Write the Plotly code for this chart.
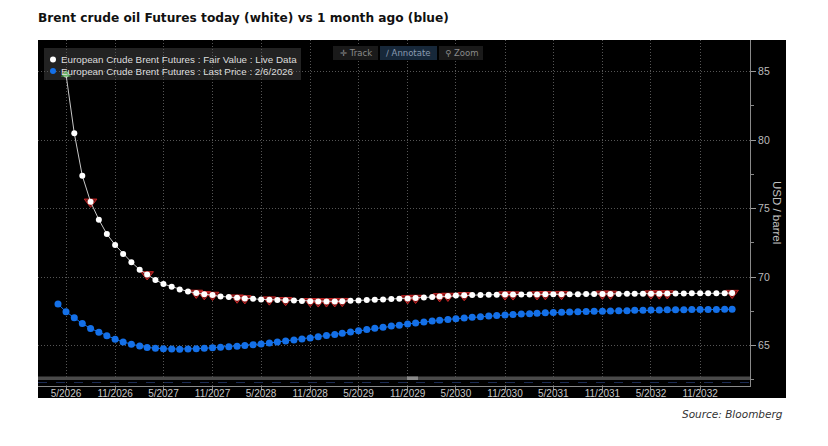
import plotly.graph_objects as go
import pandas as pd

# ---------------- DATA ----------------
TITLE = "Brent crude oil Futures today (white) vs 1 month ago (blue)"
SOURCE = "Source: Bloomberg"
NAME_TODAY = "European Crude Brent Futures : Fair Value : Live Data"
NAME_MONTH_AGO = "European Crude Brent Futures : Last Price : 2/6/2026"

# contract months (Apr 2026 .. Mar 2033)
MONTHS = pd.date_range("2026-04-01", "2033-03-01", freq="MS")
MONTHS_TODAY = MONTHS[1:]          # May 2026 .. Mar 2033

TODAY = [
    84.8, 80.5, 77.4, 75.5, 74.2, 73.15, 72.35, 71.7, 71.1, 70.55, 70.2, 69.8,
    69.5, 69.3, 69.1, 68.95, 68.85, 68.75, 68.7, 68.6, 68.55, 68.5, 68.45, 68.42,
    68.38, 68.36, 68.34, 68.32, 68.3, 68.27, 68.24, 68.22, 68.22, 68.23, 68.25, 68.28,
    68.3, 68.33, 68.36, 68.38, 68.4, 68.42, 68.45, 68.48, 68.52, 68.56, 68.6, 68.63,
    68.66, 68.68, 68.7, 68.71, 68.72, 68.72, 68.73, 68.73, 68.73, 68.74, 68.74, 68.75,
    68.75, 68.76, 68.76, 68.76, 68.77, 68.77, 68.78, 68.78, 68.78, 68.79, 68.79, 68.8,
    68.8, 68.8, 68.81, 68.81, 68.81, 68.82, 68.82, 68.82, 68.83, 68.83, 68.84,
]

MONTH_AGO = [
    68.04, 67.48, 67.04, 66.62, 66.26, 65.98, 65.72, 65.48, 65.27, 65.1, 64.97, 64.87,
    64.81, 64.78, 64.76, 64.75, 64.76, 64.78, 64.81, 64.85, 64.88, 64.92, 64.96, 65.01,
    65.07, 65.13, 65.2, 65.27, 65.34, 65.42, 65.49, 65.56, 65.65, 65.74, 65.82, 65.91,
    66.0, 66.1, 66.18, 66.27, 66.35, 66.43, 66.5, 66.58, 66.65, 66.73, 66.8, 66.86,
    66.92, 66.97, 67.02, 67.07, 67.12, 67.17, 67.21, 67.25, 67.28, 67.31, 67.34, 67.37,
    67.4, 67.42, 67.44, 67.46, 67.48, 67.5, 67.51, 67.52, 67.54, 67.55, 67.56, 67.58,
    67.59, 67.6, 67.61, 67.62, 67.62, 67.63, 67.64, 67.64, 67.65, 67.65, 67.66, 67.66,
]

# indices (into TODAY) carrying the red trade markers
MARKED = [3, 10, 16, 17, 18, 21, 22, 25, 27, 30, 31, 32, 33, 34, 42, 43, 46, 47, 49,
          54, 55, 58, 59, 61, 66, 67, 72, 73, 74, 82]

TICK_LABELS = ["5/2026", "11/2026", "5/2027", "11/2027", "5/2028", "11/2028", "5/2029",
               "11/2029", "5/2030", "11/2030", "5/2031", "11/2031", "5/2032", "11/2032"]
Y_TICKS = [65, 70, 75, 80, 85]

# ---------------- LAYOUT HELPERS ----------------
WIN_W, WIN_H = 828, 446
OFF = 8                      # page body margin of the html page
W, H = WIN_W - OFF, WIN_H - OFF
L, R, T, B = 38, 750, 40, 386   # plot area in window pixels


def px(x):
    return (x - L) / (R - L)


def py(y):
    return (B - y) / (B - T)


tickvals = [f"{lab.split('/')[1]}-{int(lab.split('/')[0]):02d}-01" for lab in TICK_LABELS]

fig = go.Figure()

fig.add_trace(go.Scatter(
    x=MONTHS, y=MONTH_AGO, mode="lines+markers", name=NAME_MONTH_AGO,
    line=dict(color="#1470e8", width=1),
    marker=dict(color="#1470e8", size=7), showlegend=False, hoverinfo="x+y"))

fig.add_trace(go.Scatter(
    x=[MONTHS_TODAY[i] for i in MARKED], y=[TODAY[i] for i in MARKED], mode="markers",
    marker=dict(symbol="triangle-down", size=11, color="rgba(140,20,20,0.8)",
                line=dict(color="#c82828", width=1)),
    showlegend=False, hoverinfo="skip"))

fig.add_trace(go.Scatter(
    x=MONTHS_TODAY, y=TODAY, mode="lines+markers", name=NAME_TODAY,
    line=dict(color="#c8c8c8", width=1),
    marker=dict(color="white", size=6), showlegend=False, hoverinfo="x+y"))

fig.add_trace(go.Scatter(
    x=[MONTHS_TODAY[0]], y=[TODAY[0]], mode="markers",
    marker=dict(symbol="triangle-up", size=9, color="rgba(70,160,70,0.8)"),
    showlegend=False, hoverinfo="skip"))

shapes = [
    # black panel
    dict(type="rect", xref="paper", yref="paper", x0=px(38), x1=px(786), y0=py(398), y1=py(40),
         fillcolor="black", line=dict(width=0), layer="below"),
    # legend box (under the traces)
    dict(type="rect", xref="paper", yref="paper", x0=px(44), x1=px(301), y0=py(80), y1=py(48),
         fillcolor="rgba(36,36,36,0.95)", line=dict(width=0), layer="below"),
    # scroll strip
    dict(type="rect", xref="paper", yref="paper", x0=px(38), x1=px(750), y0=py(380), y1=py(376.5),
         fillcolor="#4a4a4a", line=dict(width=0), layer="above"),
    dict(type="rect", xref="paper", yref="paper", x0=px(407), x1=px(418), y0=py(380), y1=py(376.5),
         fillcolor="#8a8a8a", line=dict(width=0), layer="above"),
    dict(type="line", xref="paper", yref="paper", x0=px(38), x1=px(750), y0=py(382.5), y1=py(382.5),
         line=dict(color="#1c2c55", width=1, dash="dash"), layer="above"),
    dict(type="circle", xref="paper", yref="paper", x0=px(50), x1=px(56), y0=py(62.5), y1=py(56.5),
         fillcolor="white", line=dict(width=0), layer="above"),
    dict(type="circle", xref="paper", yref="paper", x0=px(50), x1=px(56), y0=py(74), y1=py(68),
         fillcolor="#1470e8", line=dict(width=0), layer="above"),
    # toolbar
    dict(type="rect", xref="paper", yref="paper", x0=px(333), x1=px(378), y0=py(60), y1=py(46),
         fillcolor="#1a1a1a", line=dict(width=0), layer="above"),
    dict(type="rect", xref="paper", yref="paper", x0=px(380), x1=px(437), y0=py(60), y1=py(46),
         fillcolor="#17283a", line=dict(width=0), layer="above"),
    dict(type="rect", xref="paper", yref="paper", x0=px(439), x1=px(483), y0=py(60), y1=py(46),
         fillcolor="#1a1a1a", line=dict(width=0), layer="above"),
]

ann = [
    dict(text="<b>" + TITLE + "</b>", xref="paper", yref="paper", x=px(36), y=py(18),
         xanchor="left", yanchor="middle", showarrow=False,
         font=dict(family="DejaVu Sans", size=12.2, color="#111")),
    dict(text="<i>" + SOURCE + "</i>", xref="paper", yref="paper", x=px(785), y=py(414),
         xanchor="right", yanchor="middle", showarrow=False,
         font=dict(family="DejaVu Sans", size=10.5, color="#333")),
    dict(text="USD / barrel", xref="paper", yref="paper", x=px(777), y=py(212),
         xanchor="center", yanchor="middle", showarrow=False, textangle=90,
         font=dict(family="Liberation Sans", size=11.5, color="#c0c0c0")),
    dict(text=NAME_TODAY, xref="paper", yref="paper", x=px(59), y=py(59.5),
         xanchor="left", yanchor="middle", showarrow=False,
         font=dict(family="Liberation Sans", size=9.8, color="#dddddd")),
    dict(text=NAME_MONTH_AGO, xref="paper", yref="paper", x=px(59), y=py(71),
         xanchor="left", yanchor="middle", showarrow=False,
         font=dict(family="Liberation Sans", size=9.8, color="#dddddd")),
    dict(text="✛ Track", xref="paper", yref="paper", x=px(355.5), y=py(53),
         xanchor="center", yanchor="middle", showarrow=False,
         font=dict(family="DejaVu Sans", size=8.5, color="#8a8a8a")),
    dict(text="∕ Annotate", xref="paper", yref="paper", x=px(408.5), y=py(53),
         xanchor="center", yanchor="middle", showarrow=False,
         font=dict(family="DejaVu Sans", size=8.5, color="#8a9ab0")),
    dict(text="⚲ Zoom", xref="paper", yref="paper", x=px(461), y=py(53),
         xanchor="center", yanchor="middle", showarrow=False,
         font=dict(family="DejaVu Sans", size=8.5, color="#8a8a8a")),
]

fig.update_layout(
    width=W, height=H,
    margin=dict(l=L - OFF, r=W - (R - OFF), t=T - OFF, b=H - (B - OFF), pad=0),
    paper_bgcolor="white", plot_bgcolor="rgba(0,0,0,0)",
    shapes=shapes, annotations=ann, showlegend=False,
    xaxis=dict(type="date", range=["2026-01-16", "2033-05-07"],
               tickvals=tickvals, ticktext=TICK_LABELS,
               showgrid=True, gridcolor="#555555", griddash="1px,2px", gridwidth=1,
               ticks="outside", ticklen=3, tickcolor="#888", ticklabelstandoff=-5,
               showline=True, linecolor="#8a8a8a", linewidth=1,
               tickfont=dict(family="Liberation Sans", size=10, color="#c8c8c8"),
               zeroline=False, fixedrange=True),
    yaxis=dict(side="right", range=[62.06, 87.31], tickvals=Y_TICKS,
               showgrid=True, gridcolor="#555555", griddash="1px,2px", gridwidth=1,
               ticks="outside", ticklen=5, tickcolor="#999",
               minor=dict(ticks="outside", ticklen=3, tickcolor="#888",
                          tick0=62.5, dtick=5, showgrid=False),
               showline=True, linecolor="#8a8a8a", linewidth=1,
               tickfont=dict(family="Liberation Sans", size=10.5, color="#bbbbbb"),
               zeroline=False, fixedrange=True),
)

fig.write_html("out.html")
